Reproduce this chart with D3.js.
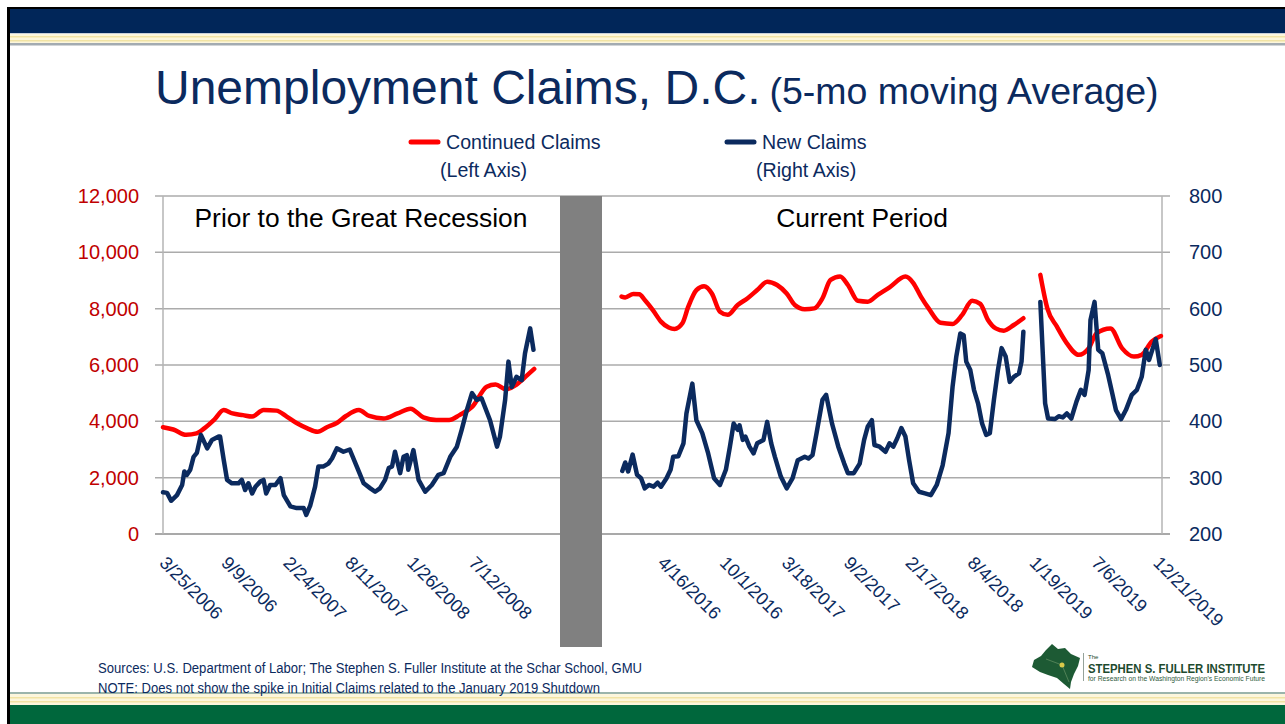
<!DOCTYPE html>
<html>
<head>
<meta charset="utf-8">
<script src="https://cdn.jsdelivr.net/npm/d3@7"></script>
<style>
  html, body { margin: 0; padding: 0; background: #fff; }
  svg { display: block; font-family: "Liberation Sans", Arial, sans-serif; }
</style>
</head>
<body>
<div id="chart"></div>
<script>
// ── Data (weeks since period start, value) ──
const preStart = "3/25/2006";
const curStart = "4/16/2016";

const preTicks = ["3/25/2006", "9/9/2006", "2/24/2007", "8/11/2007", "1/26/2008", "7/12/2008"];
const curTicks = ["4/16/2016", "10/1/2016", "3/18/2017", "9/2/2017", "2/17/2018", "8/4/2018", "1/19/2019", "7/6/2019", "12/21/2019"];

const leftTicks  = [0, 2000, 4000, 6000, 8000, 10000, 12000];
const rightTicks = [200, 300, 400, 500, 600, 700, 800];

// Continued claims, 2006-2008 (left axis)
const preContinued = [
  [0,3790],[4,3710],[9,3520],[13,3570],[16,3750],[20,4070],[23.5,4400],[27,4280],[31,4220],
  [34.5,4170],[39,4400],[44,4380],[48,4170],[52,3930],[56,3750],[60,3630],[63.5,3790],
  [67.5,3950],[71,4190],[76,4400],[80,4190],[85.5,4100],[91,4280],[96,4450],[101,4140],
  [106,4050],[111,4050],[115,4220],[120,4520],[125.5,5230],[129,5310],[133,5140],[137,5290],
  [140,5530],[144,5860]
];

// New claims, 2006-2008 (right axis)
const preNew = [
  [0,274],[1.6,273],[3.1,259],[5.4,269],[7.4,287],[8.3,311],[9.3,305],[10.6,314],[11.9,337],
  [13.2,344],[14.7,376],[17.1,352],[19,367],[21.6,373],[22.2,373],[23.5,331],[24.8,296],
  [26.7,290],[29.3,290],[30.6,296],[31.9,278],[33.2,290],[34.5,272],[35.8,284],[37.7,293],
  [39,296],[40,272],[41.6,287],[43.5,287],[45.5,299],[46.8,269],[49.4,249],[51.9,246],
  [54.5,246],[55.6,234],[57.1,251],[59,284],[60.3,320],[62.3,320],[64.2,325],[65.5,334],
  [67.4,352],[70,346],[72.4,350],[75.2,320],[77.8,290],[80.4,281],[82.3,275],[84.2,281],
  [86.2,296],[87.5,317],[88.8,320],[90,346],[92,308],[93.3,337],[94.6,340],[95.2,314],
  [97.2,349],[99.1,296],[101.7,275],[104.3,287],[106.8,305],[108.8,308],[111.4,337],
  [114,355],[115.9,385],[117.8,420],[119.8,450],[121.7,438],[123.6,441],[126.9,402],
  [129.5,355],[130.7,373],[132.7,438],[134,506],[135.3,461],[137.2,479],[139.1,473],
  [140.4,521],[142.4,565],[143.7,527]
];

// Continued claims, 2016-2019 (left axis); null = shutdown gap
const curContinued = [
  [-15.5,8430],[-14,8400],[-10.9,8520],[-8.6,8510],[-6.4,8310],[-3.3,7950],[-0.2,7540],
  [2.8,7330],[5.1,7280],[8.2,7480],[10.4,8070],[13.5,8660],[16.6,8800],[19.6,8540],
  [22.7,7890],[25.7,7780],[29.5,8130],[33.4,8370],[37.2,8660],[41,8960],[44.8,8840],
  [48.6,8540],[51.7,8130],[55.5,7980],[59.3,8010],[62.4,8370],[65.5,9020],[69.3,9140],
  [72.3,8840],[76.1,8280],[80,8250],[83.8,8490],[88.4,8760],[94.5,9140],[97.5,8920],
  [100.6,8430],[103.6,8010],[108.2,7500],[112.8,7460],[116.6,7780],[120.4,8280],
  [123.5,8170],[126.6,7600],[129.6,7300],[132.7,7220],[136.5,7420],[140.3,7660],
  [143,null],
  [146.9,9200],[149.5,8010],[153.3,7360],[157.1,6770],[161.7,6360],[165.5,6590],
  [168.6,7120],[174,7300],[178.5,6590],[183.1,6300],[186.2,6360],[190,6830],[193.6,7030]
];

// New claims, 2016-2019 (right axis); null = shutdown gap
const curNew = [
  [-15.2,312],[-14,327],[-12.9,311],[-11.2,341],[-9.4,305],[-7.9,299],[-6.4,281],[-4.8,287],
  [-3,284],[-1.5,291],[-0.2,284],[2,299],[3.6,314],[4.6,337],[6.6,338],[8.5,361],[9.7,414],
  [12,467],[13.5,402],[15.8,379],[18.1,343],[20.4,299],[22.7,287],[25,314],[26.5,355],
  [28,396],[29.6,385],[30.3,393],[31.5,367],[32.6,373],[34.1,355],[35.7,343],[37.2,361],
  [39.5,367],[41,399],[42.5,361],[44,337],[46.3,302],[48.6,281],[50.9,299],[52.9,331],
  [55.5,337],[57,334],[58.6,340],[60.1,379],[62.4,438],[63.9,447],[66.2,396],[68.5,355],
  [70.8,325],[72.3,308],[74.6,308],[76.9,325],[78.5,367],[80,391],[81.5,402],[82.6,358],
  [84.6,355],[86.9,346],[88.4,361],[89.9,355],[91.4,370],[93,388],[94.5,373],[96,331],
  [97.5,290],[99.8,275],[102.1,272],[104.4,269],[106.7,287],[109,322],[111.3,379],
  [112.8,462],[114.3,515],[115.9,556],[117.1,553],[118.2,506],[119.7,491],[121.2,456],
  [122.7,432],[124.3,396],[125.8,376],[127.3,379],[128.9,438],[130.4,491],[131.9,530],
  [133.4,515],[135,470],[136.5,479],[138.5,485],[139.5,506],[140.3,559],
  [143,null],
  [146.9,612],[148.7,432],[149.8,405],[152.5,404],[154,409],[155.6,407],[157.1,414],
  [158.9,405],[160.9,435],[162.5,456],[164,447],[165.5,491],[166.3,580],[167.8,612],
  [169.3,527],[170.8,521],[173.1,482],[174.7,450],[176.2,420],[178.2,404],[180,420],
  [182.3,447],[184.3,456],[186.2,479],[187.7,527],[189,509],[191.6,546],[193.2,500]
];

// ── Setup ──
const W = 1285, H = 724;
const NAVY = "#0b2a5e", RED = "#ff0000", DARKRED = "#c00000";

const svg = d3.select("#chart").append("svg")
  .attr("width", W).attr("height", H);

const parse = d3.timeParse("%m/%d/%Y");
const fmt   = d3.timeFormat("%-m/%-d/%Y");
const wk = (start, w) => d3.timeDay.offset(start, Math.round(w * 7));

const preT0 = parse(preStart), curT0 = parse(curStart);

const yLeft  = d3.scaleLinear().domain([0, 12000]).range([534, 196]);
const yRight = d3.scaleLinear().domain([200, 800]).range([534, 196]);

const xPre = d3.scaleTime().domain([wk(preT0, 0), wk(preT0, 154)]).range([163, 560]);
const xCur = d3.scaleTime().domain([wk(curT0, -23), wk(curT0, 194)]).range([602, 1162]);

// ── Slide frame ──
const frame = svg.append("g");
frame.append("rect").attr("x", 8).attr("y", 7).attr("width", W - 8).attr("height", 26).attr("fill", "#012659");
frame.append("rect").attr("x", 8).attr("y", 7).attr("width", W - 8).attr("height", 2).attr("fill", "#000");
frame.append("rect").attr("x", 8).attr("y", 33).attr("width", W - 8).attr("height", 10).attr("fill", "#fcf6dc");
frame.append("rect").attr("x", 8).attr("y", 33).attr("width", W - 8).attr("height", 1).attr("fill", "#c9d0da");
frame.append("rect").attr("x", 8).attr("y", 36).attr("width", W - 8).attr("height", 1.5).attr("fill", "#f1e3a4");
frame.append("rect").attr("x", 8).attr("y", 40).attr("width", W - 8).attr("height", 1.5).attr("fill", "#f1e3a4");
frame.append("rect").attr("x", 8).attr("y", 43).attr("width", W - 8).attr("height", 2.5).attr("fill", "#a3abb1");

frame.append("rect").attr("x", 8).attr("y", 692).attr("width", W - 8).attr("height", 2).attr("fill", "#9bb4ab");
frame.append("rect").attr("x", 8).attr("y", 694).attr("width", W - 8).attr("height", 11).attr("fill", "#fcf6dc");
frame.append("rect").attr("x", 8).attr("y", 697).attr("width", W - 8).attr("height", 1.5).attr("fill", "#f1e3a4");
frame.append("rect").attr("x", 8).attr("y", 701).attr("width", W - 8).attr("height", 1.5).attr("fill", "#f1e3a4");
frame.append("rect").attr("x", 8).attr("y", 705).attr("width", W - 8).attr("height", 19).attr("fill", "#00673c");
frame.append("rect").attr("x", 7).attr("y", 7).attr("width", 3).attr("height", H - 7).attr("fill", "#000");

// ── Title ──
const title = svg.append("text").attr("x", 155).attr("y", 104).attr("fill", NAVY);
title.append("tspan").attr("font-size", 48).text("Unemployment Claims, D.C.");
title.append("tspan").attr("font-size", 37.5).attr("dx", 9).text("(5-mo moving Average)");

// ── Legend ──
const legend = svg.append("g").attr("fill", NAVY).attr("font-size", 19.6);
legend.append("line").attr("x1", 411).attr("x2", 438).attr("y1", 142).attr("y2", 142)
  .attr("stroke", RED).attr("stroke-width", 5).attr("stroke-linecap", "round");
legend.append("text").attr("x", 446).attr("y", 149).text("Continued Claims");
legend.append("text").attr("x", 440).attr("y", 177).text("(Left Axis)");
legend.append("line").attr("x1", 727).attr("x2", 754).attr("y1", 142).attr("y2", 142)
  .attr("stroke", NAVY).attr("stroke-width", 5).attr("stroke-linecap", "round");
legend.append("text").attr("x", 762).attr("y", 149).text("New Claims");
legend.append("text").attr("x", 756).attr("y", 177).text("(Right Axis)");

// ── Gridlines ──
svg.append("g").selectAll("line").data(leftTicks).join("line")
  .attr("x1", 155).attr("x2", 1170)
  .attr("y1", d => yLeft(d)).attr("y2", d => yLeft(d))
  .attr("stroke", d => d === 0 ? "#8c8c8c" : "#ababab")
  .attr("stroke-width", 1.5);

svg.append("line").attr("x1", 163).attr("x2", 163).attr("y1", 196).attr("y2", 534)
  .attr("stroke", "#b5b5b5").attr("stroke-width", 1.5);
svg.append("line").attr("x1", 1162).attr("x2", 1162).attr("y1", 196).attr("y2", 534)
  .attr("stroke", "#b5b5b5").attr("stroke-width", 1.5);

// ── Y axes ──
const axL = svg.append("g").attr("transform", "translate(163,0)")
  .call(d3.axisLeft(yLeft).tickValues(leftTicks).tickFormat(d3.format(",")).tickSize(8).tickPadding(16));
const axR = svg.append("g").attr("transform", "translate(1162,0)")
  .call(d3.axisRight(yRight).tickValues(rightTicks).tickSize(8).tickPadding(19));
[axL, axR].forEach(a => {
  a.select(".domain").remove();
  a.selectAll(".tick line").remove();
  a.selectAll("text").attr("font-size", 20).attr("font-family", "Liberation Sans, Arial, sans-serif");
});
axL.selectAll("text").attr("fill", DARKRED);
axR.selectAll("text").attr("fill", NAVY);

// ── X axes ──
function xAxis(x, ticks) {
  const g = svg.append("g").attr("transform", "translate(0,534)")
    .call(d3.axisBottom(x).tickValues(ticks.map(parse)).tickFormat(fmt).tickSize(0));
  g.select(".domain").remove();
  g.selectAll("text")
    .attr("x", 0).attr("y", 0).attr("dy", 0)
    .attr("text-anchor", "start")
    .attr("transform", "translate(-5,30) rotate(45)")
    .attr("fill", NAVY).attr("font-size", 18)
    .attr("font-family", "Liberation Sans, Arial, sans-serif");
}
xAxis(xPre, preTicks);
xAxis(xCur, curTicks);

// ── Lines ──
function drawLine(data, x, y, t0, color, curve) {
  const line = d3.line()
    .defined(d => d[1] != null)
    .x(d => x(wk(t0, d[0])))
    .y(d => y(d[1]))
    .curve(curve);
  svg.append("path").datum(data)
    .attr("d", line)
    .attr("fill", "none")
    .attr("stroke", color)
    .attr("stroke-width", 4.5)
    .attr("stroke-linejoin", "round")
    .attr("stroke-linecap", "round");
}
drawLine(preContinued, xPre, yLeft, preT0, RED, d3.curveMonotoneX);
drawLine(curContinued, xCur, yLeft, curT0, RED, d3.curveMonotoneX);
drawLine(preNew, xPre, yRight, preT0, NAVY, d3.curveLinear);
drawLine(curNew, xCur, yRight, curT0, NAVY, d3.curveLinear);

// ── Period separator ──
svg.append("rect").attr("x", 560).attr("y", 196).attr("width", 42).attr("height", 451).attr("fill", "#808080");

svg.append("text").attr("x", 361).attr("y", 227).attr("text-anchor", "middle")
  .attr("font-size", 26.4).attr("fill", "#000").text("Prior to the Great Recession");
svg.append("text").attr("x", 862).attr("y", 227).attr("text-anchor", "middle")
  .attr("font-size", 26.4).attr("fill", "#000").text("Current Period");

// ── Footer ──
svg.append("text").attr("x", 98).attr("y", 673).attr("font-size", 14).attr("fill", NAVY)
  .attr("textLength", 544).attr("lengthAdjust", "spacingAndGlyphs")
  .text("Sources: U.S. Department of Labor; The Stephen S. Fuller Institute at the Schar School, GMU");
svg.append("text").attr("x", 98).attr("y", 693).attr("font-size", 14).attr("fill", NAVY)
  .attr("textLength", 502).attr("lengthAdjust", "spacingAndGlyphs")
  .text("NOTE: Does not show the spike in Initial Claims related to the January 2019 Shutdown");

// ── Logo ──
const logo = svg.append("g");
logo.append("path")
  .attr("d", "M1052,644 L1058,649 L1065,648 L1071,654 L1080,658 L1078,666 L1074,674 L1071,682 L1070,689 L1064,684 L1057,678 L1048,675 L1040,672 L1032,667 L1034,660 L1041,656 L1046,650 Z")
  .attr("fill", "#1d5a34");
logo.append("path").attr("d", "M1046,659 L1062,665 L1069,682").attr("fill", "none")
  .attr("stroke", "#5e8c5f").attr("stroke-width", 0.8);
logo.append("circle").attr("cx", 1062).attr("cy", 665).attr("r", 2.5).attr("fill", "#d8c94a");
logo.append("line").attr("x1", 1083.5).attr("x2", 1083.5).attr("y1", 653).attr("y2", 681)
  .attr("stroke", "#7a8a80").attr("stroke-width", 0.8);
logo.append("text").attr("x", 1088).attr("y", 659).attr("font-size", 6).attr("fill", "#1d4a2e").text("The");
logo.append("text").attr("x", 1088).attr("y", 673).attr("font-size", 11).attr("font-weight", "bold")
  .attr("fill", "#1d4a2e").attr("textLength", 177).attr("lengthAdjust", "spacingAndGlyphs")
  .attr("transform", "translate(0,673) scale(1,1.2) translate(0,-673)")
  .text("STEPHEN S. FULLER INSTITUTE");
logo.append("text").attr("x", 1088).attr("y", 681).attr("font-size", 6.5)
  .attr("fill", "#2f5a3d").attr("textLength", 177).attr("lengthAdjust", "spacingAndGlyphs")
  .text("for Research on the Washington Region's Economic Future");
</script>
</body>
</html>
